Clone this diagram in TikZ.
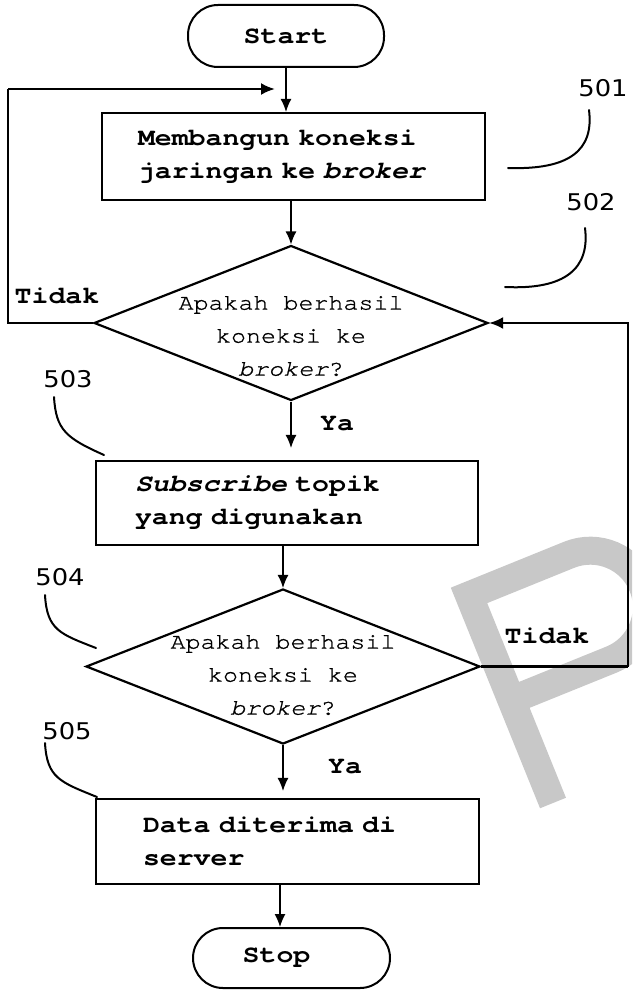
\documentclass[tikz,border=0pt]{standalone}
\usepackage{fontspec}
\usetikzlibrary{shapes.geometric,arrows.meta}
\newfontfamily\courb[FakeStretch=1.15]{TeX Gyre Cursor}
\newfontfamily\courr[FakeStretch=1.12,FakeBold=1]{TeX Gyre Cursor}
\newfontfamily\numf[FakeStretch=1.12]{DejaVu Sans}
\definecolor{wm}{RGB}{200,200,200}
\newcommand{\bxfont}{\courb\bfseries\fontsize{24.5}{33}\selectfont\fontdimen2\font=16.9pt\fontdimen3\font=0pt\fontdimen4\font=0pt\relax}
\newcommand{\dmfont}{\courr\fontsize{22.3}{33}\selectfont}
\begin{document}
\begin{tikzpicture}[x=1pt,y=-1pt,
  boxs/.style={draw, line width=2.2pt, align=left, font=\bxfont, inner ysep=0pt},
  term/.style={draw, line width=2pt, rounded corners=30pt, minimum width=196pt, minimum height=62pt, inner sep=0pt, font=\bxfont},
  dec/.style={draw, diamond, line width=2.2pt, inner sep=0pt, minimum width=394pt, minimum height=155pt},
  dtxt/.style={align=center, font=\dmfont, inner sep=0pt},
  lbl/.style={font=\bxfont, inner sep=0pt},
  num/.style={font=\numf\fontsize{23}{28}\selectfont, inner sep=0pt},
  thinarr/.style={line width=1.3pt, -{Latex[length=13pt,width=11pt]}},
  looparr/.style={line width=2.4pt, -{Latex[length=14pt,width=12pt]}},
  loopline/.style={line width=2.4pt},
  leader/.style={line width=2pt, line cap=round},
]
\useasboundingbox (0,0) rectangle (632,990);
% watermark
\begin{scope}
\clip (0,0) rectangle (632,990);
\draw[wm, line width=28pt, line join=miter] (553,803) -- (469,595.4) -- (569.1,554.8)
  .. controls (598,543.1) and (631,557.1) .. (642.7,586)
  .. controls (654.4,614.9) and (640.4,647.9) .. (611.5,659.6) -- (511.4,700.1);
\end{scope}

% nodes
\node[term] (start) at (286,36) {Start};
\node[boxs, text width=311pt, inner xsep=36pt, minimum height=87pt] (b1) at (293.5,156.5)
  {Membangun koneksi\\jaringan ke \textit{broker}};
\node[dec] (d1) at (291,323) {};
\node[dtxt] (d1t) at (291,336) {Apakah berhasil\\koneksi ke\\\textit{broker}?};
\node[boxs, text width=304pt, inner xsep=39pt, minimum height=84pt] (b2) at (287,503)
  {\textit{Subscribe} topik\\yang digunakan};
\node[dec] (d2) at (283,666.5) {};
\node[dtxt] (d2t) at (283,675) {Apakah berhasil\\koneksi ke\\\textit{broker}?};
\node[boxs, text width=289pt, inner xsep=47pt, minimum height=85pt] (b3) at (287.5,841.5)
  {Data diterima di\\server};
\node[term, minimum width=197pt, minimum height=60pt] (stop) at (291.5,958) {\hspace*{-30pt}Stop};

% labels
\node[lbl] (tidak1) at (57,296) {Tidak};
\node[lbl] (tidak2) at (547,636) {Tidak};
\node[lbl] (ya1) at (337,424) {Ya};
\node[lbl] (ya2) at (345,767) {Ya};
\node[num] (n501) at (603,88) {501};
\node[num] (n502) at (591,202) {502};
\node[num] (n503) at (68,379) {503};
\node[num] (n504) at (60,577) {504};
\node[num] (n505) at (67,731) {505};

% main arrows
\draw[thinarr] (start.south) -- (start.south |- b1.north);
\draw[thinarr] (d1.north |- b1.south) -- (d1.north);
\draw[thinarr, shorten >=12pt] (d1.south) -- (d1.south |- b2.north);
\draw[thinarr] (d2.north |- b2.south) -- (d2.north);
\draw[thinarr, shorten >=7pt] (d2.south) -- (d2.south |- b3.north);
\coordinate (x3) at (280,0);
\draw[thinarr] (b3.south -| x3) -- (stop.north -| x3);

% loops
\coordinate (L) at (8,89);
\coordinate (fb1) at (275,89);
\draw[loopline] (d1.west) -| (L);
\draw[looparr] (L) -- (fb1);
\coordinate (R) at (628,666.5);
\draw[loopline] (d2.east) -- (R);
\draw[looparr] (R) |- (d1.east);

% leaders
\draw[leader] (589,110) .. controls (594,150) and (570,170) .. (508,168);
\draw[leader] (585,228) .. controls (590,268) and (566,290) .. (505,287);
\draw[leader] (54,397) .. controls (56,430) and (66,438) .. (104,455);
\draw[leader] (45,595) .. controls (47,630) and (60,634) .. (96,648);
\draw[leader] (45,743) .. controls (47,778) and (60,782) .. (97,797);
\end{tikzpicture}
\end{document}
